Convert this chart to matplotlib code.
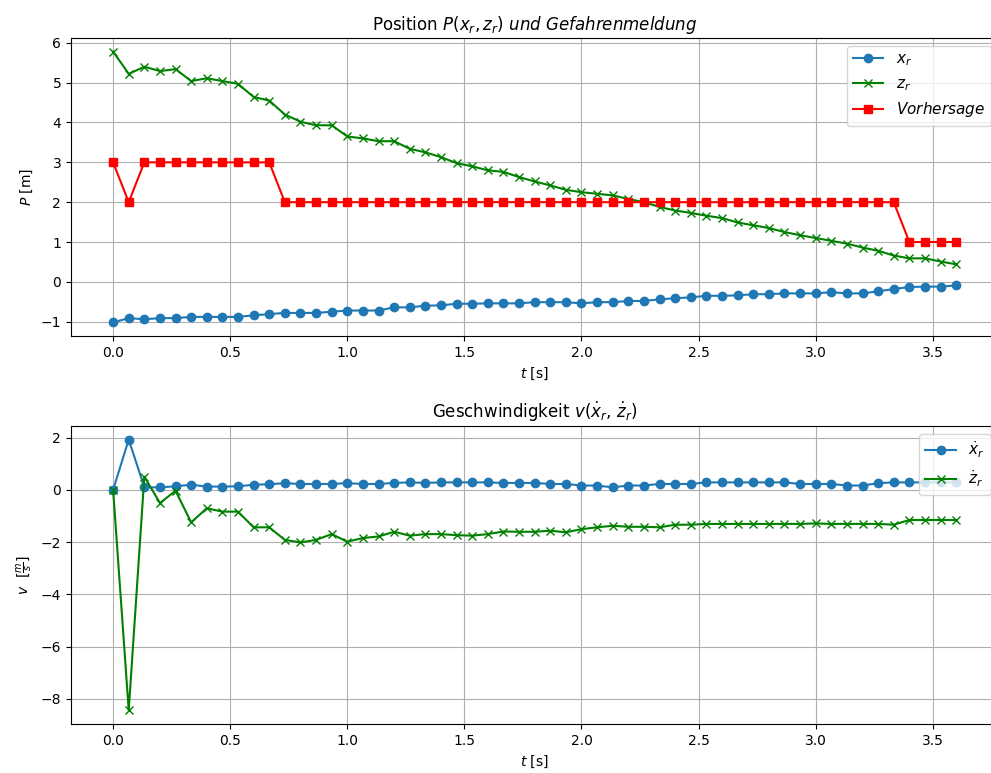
#!/usr/bin/env python3
# -*- coding: utf-8 -*-
import matplotlib
matplotlib.use('Agg')
import matplotlib.pyplot as plt
import numpy as np

# sample rate of the tracker [Hz]
fs = 15

# position of the robot [m]
x_r = [-1.02, -0.91, -0.94, -0.91, -0.91, -0.88, -0.88, -0.88, -0.88, -0.84,
       -0.81, -0.78, -0.78, -0.78, -0.75, -0.72, -0.72, -0.72, -0.64, -0.64,
       -0.60, -0.59, -0.55, -0.55, -0.54, -0.54, -0.54, -0.51, -0.51, -0.51,
       -0.54, -0.51, -0.51, -0.48, -0.48, -0.44, -0.41, -0.39, -0.35, -0.35,
       -0.34, -0.31, -0.31, -0.29, -0.29, -0.29, -0.26, -0.29, -0.29, -0.24,
       -0.18, -0.13, -0.12, -0.12, -0.09]
z_r = [5.78, 5.22, 5.40, 5.29, 5.34, 5.04, 5.11, 5.04, 4.97, 4.64,
       4.55, 4.20, 4.02, 3.93, 3.93, 3.65, 3.60, 3.53, 3.53, 3.34,
       3.25, 3.13, 2.98, 2.90, 2.80, 2.76, 2.63, 2.52, 2.42, 2.31,
       2.25, 2.21, 2.17, 2.08, 2.00, 1.88, 1.79, 1.73, 1.66, 1.60,
       1.49, 1.42, 1.35, 1.25, 1.17, 1.10, 1.03, 0.96, 0.86, 0.78,
       0.66, 0.59, 0.59, 0.51, 0.44]

# predicted danger level
vorhersage = [3, 2] + [3] * 9 + [2] * 40 + [1] * 4

# velocity [m/s]
x_dot = [0.00, 1.93, 0.10, 0.10, 0.14, 0.20, 0.13, 0.13, 0.14, 0.20,
         0.22, 0.26, 0.23, 0.23, 0.23, 0.26, 0.23, 0.23, 0.27, 0.29,
         0.27, 0.29, 0.29, 0.29, 0.29, 0.27, 0.27, 0.27, 0.23, 0.23,
         0.17, 0.17, 0.10, 0.17, 0.17, 0.23, 0.23, 0.23, 0.29, 0.29,
         0.29, 0.29, 0.29, 0.29, 0.23, 0.23, 0.23, 0.17, 0.17, 0.26,
         0.29, 0.29, 0.29, 0.29, 0.29]
z_dot = [0.00, -8.44, 0.51, -0.50, -0.03, -1.24, -0.70, -0.83, -0.83, -1.43,
         -1.43, -1.91, -2.01, -1.91, -1.69, -1.98, -1.84, -1.78, -1.60, -1.75,
         -1.69, -1.69, -1.73, -1.75, -1.69, -1.59, -1.60, -1.60, -1.56, -1.62,
         -1.50, -1.43, -1.37, -1.41, -1.41, -1.43, -1.33, -1.33, -1.30, -1.30,
         -1.30, -1.30, -1.30, -1.30, -1.30, -1.28, -1.30, -1.30, -1.30, -1.30,
         -1.33, -1.15, -1.15, -1.15, -1.15]

t = np.arange(len(x_r)) / fs


if __name__ == '__main__':

    fig = plt.figure(figsize=(9.91, 7.73), dpi=100)
    ax1 = fig.add_axes([0.0716, 0.5653, 0.9358, 0.3855])
    ax2 = fig.add_axes([0.0716, 0.0634, 0.9358, 0.3855])

    #position and prediction
    ax1.plot(t, x_r, 'o-', label=r'$x_r$')
    ax1.plot(t, z_r, 'gx-', label=r'$z_r$')
    ax1.plot(t, vorhersage, 'rs-', label=r'$Vorhersage$')
    ax1.set_title(r'Position $P(x_r, z_r)$ $und$ $Gefahrenmeldung$')
    ax1.set_xlabel(r'$t$ [s]')
    ax1.set_ylabel(r'$P$ [m]')
    ax1.grid(True)
    ax1.legend(loc='upper right', fontsize=11)

    #velocity
    ax2.plot(t, x_dot, 'o-', label=r'$\dot{x}_r$')
    ax2.plot(t, z_dot, 'gx-', label=r'$\dot{z}_r$')
    ax2.set_title(r'Geschwindigkeit $v(\dot{x}_r$, $\dot{z}_r)$')
    ax2.set_xlabel(r'$t$ [s]')
    ax2.set_ylabel(r'$v$  $[\frac{m}{s}]$')
    ax2.grid(True)
    ax2.legend(loc='upper right', fontsize=11)

    fig.savefig('out.png', dpi=100)
